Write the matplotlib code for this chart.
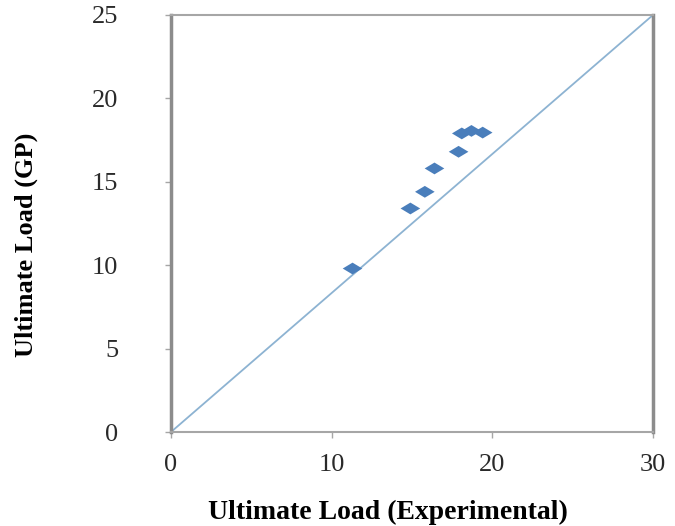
import numpy as np
import matplotlib.pyplot as plt
from matplotlib.path import Path

# data
exp_load = [11.3, 14.9, 15.8, 16.4, 17.9, 18.1, 18.7, 19.4]
gp_load = [9.8, 13.4, 14.4, 15.8, 16.8, 17.9, 18.05, 17.95]
line_x = [0, 30]
line_y = [0, 25]
x_ticks = [0, 10, 20, 30]
y_ticks = [0, 5, 10, 15, 20, 25]

plt.rcParams['font.family'] = ['Liberation Serif', 'DejaVu Serif']

fig = plt.figure(figsize=(6.75, 5.26), dpi=100)
ax = fig.add_axes([0.2533, 0.1787, 0.7141, 0.7928])

# flattened diamond marker like the excel one
diamond = Path([(-1, 0), (0, 0.6), (1, 0), (0, -0.6), (-1, 0)],
               [Path.MOVETO, Path.LINETO, Path.LINETO, Path.LINETO, Path.CLOSEPOLY])

ax.plot(line_x, line_y, color='#8DB3D2', linewidth=1.3, zorder=1)
ax.scatter(exp_load, gp_load, marker=diamond, s=200, color='#4A7EBB',
           edgecolors='none', zorder=3)

ax.set_xlim(0, 30)
ax.set_ylim(0, 25)
ax.set_xticks(x_ticks)
ax.set_yticks(y_ticks)

for side in ['left', 'right']:
    ax.spines[side].set_color('#8C8C8C')
    ax.spines[side].set_linewidth(2.5)
for side in ['top', 'bottom']:
    ax.spines[side].set_color('#A6A6A6')
    ax.spines[side].set_linewidth(1.5)

ax.tick_params(axis='y', direction='out', length=4, width=1, color='#A6A6A6',
               labelsize=19, pad=34, labelcolor='#2A2A2A')
ax.tick_params(axis='x', direction='out', length=4, width=1, color='#A6A6A6',
               labelsize=19, pad=12, labelcolor='#2A2A2A')

ax.set_xlabel('Ultimate Load (Experimental)', fontsize=20, fontweight='bold')
ax.xaxis.set_label_coords(0.45, -0.163)
ax.set_ylabel('Ultimate Load (GP)', fontsize=19, fontweight='bold')
ax.yaxis.set_label_coords(-0.276, 0.448)

plt.savefig('out.png', dpi=100)
plt.close()
